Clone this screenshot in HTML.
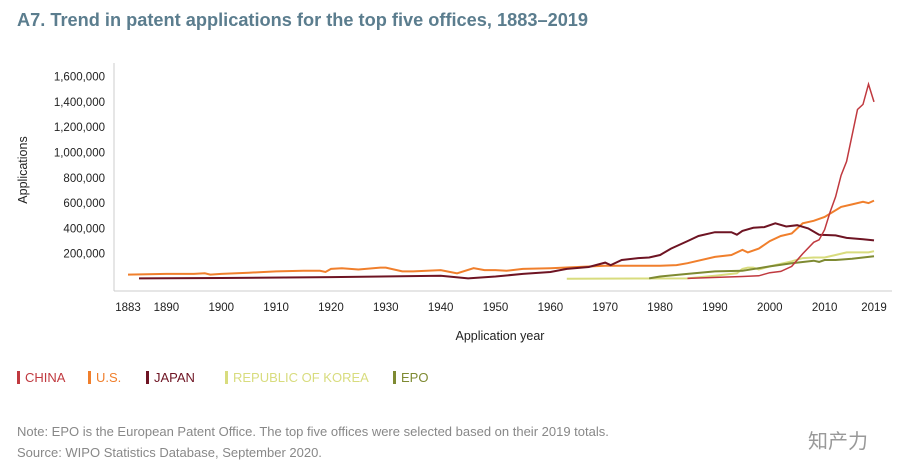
<!DOCTYPE html>
<html><head><meta charset="utf-8"><style>
body{margin:0;width:908px;height:475px;background:#fff;font-family:"Liberation Sans",sans-serif;overflow:hidden;position:relative}
.t{position:absolute;white-space:nowrap}
</style></head><body>
<div class="t" style="left:17px;top:10px;font-size:18.2px;font-weight:bold;color:#5b7d8e">A7. Trend in patent applications for the top five offices, 1883–2019</div>
<svg id="c" width="908" height="360" style="position:absolute;left:0;top:0" font-family="Liberation Sans, sans-serif"></svg>
<div style="position:absolute;left:17px;top:370px;font-size:13px">
<span class="t" style="left:0;color:#c0393f"><b style="display:inline-block;width:3px;height:13px;background:#c0393f;vertical-align:-2px;margin-right:5px"></b>CHINA</span>
<span class="t" style="left:71px;color:#f07f2c"><b style="display:inline-block;width:3px;height:13px;background:#f07f2c;vertical-align:-2px;margin-right:5px"></b>U.S.</span>
<span class="t" style="left:129px;color:#6e1423"><b style="display:inline-block;width:3px;height:13px;background:#6e1423;vertical-align:-2px;margin-right:5px"></b>JAPAN</span>
<span class="t" style="left:208px;color:#d8dc7e"><b style="display:inline-block;width:3px;height:13px;background:#d8dc7e;vertical-align:-2px;margin-right:5px"></b>REPUBLIC OF KOREA</span>
<span class="t" style="left:376px;color:#7e8a32"><b style="display:inline-block;width:3px;height:13px;background:#7e8a32;vertical-align:-2px;margin-right:5px"></b>EPO</span>
</div>
<div class="t" style="left:17px;top:424px;font-size:13px;color:#888">Note: EPO is the European Patent Office. The top five offices were selected based on their 2019 totals.</div>
<div class="t" style="left:17px;top:445px;font-size:13px;color:#888">Source: WIPO Statistics Database, September 2020.</div>
<div class="t" style="left:808px;top:425px;font-size:20px;color:#999;font-family:'Liberation Sans','Noto Sans CJK SC',sans-serif">知产力</div>
<script>
const yTicks=[200000,400000,600000,800000,1000000,1200000,1400000,1600000];
const xTicks=[1883,1890,1900,1910,1920,1930,1940,1950,1960,1970,1980,1990,2000,2010,2019];
const usData=[[1883,35e3],[1890,40e3],[1895,40e3],[1897,45e3],[1898,35e3],[1900,40e3],[1905,50e3],[1910,60e3],[1915,65e3],[1918,65e3],[1919,55e3],[1920,80e3],[1922,85e3],[1925,75e3],[1929,90e3],[1930,90e3],[1933,60e3],[1935,60e3],[1940,70e3],[1943,45e3],[1946,85e3],[1948,70e3],[1950,70e3],[1952,65e3],[1955,80e3],[1960,85e3],[1965,95e3],[1970,105e3],[1975,105e3],[1980,105e3],[1983,110e3],[1985,125e3],[1990,175e3],[1993,190e3],[1995,230e3],[1996,210e3],[1998,240e3],[2000,300e3],[2002,340e3],[2004,360e3],[2006,440e3],[2008,460e3],[2010,490e3],[2013,570e3],[2015,590e3],[2017,610e3],[2018,600e3],[2019,620e3]];
const japanData=[[1885,5e3],[1900,8e3],[1920,15e3],[1940,25e3],[1945,5e3],[1950,20e3],[1955,40e3],[1960,55e3],[1963,80e3],[1967,95e3],[1970,130e3],[1971,110e3],[1973,150e3],[1976,165e3],[1978,170e3],[1980,190e3],[1982,240e3],[1985,300e3],[1987,340e3],[1990,370e3],[1993,370e3],[1994,350e3],[1995,380e3],[1997,405e3],[1999,410e3],[2001,440e3],[2003,415e3],[2005,425e3],[2007,400e3],[2009,350e3],[2012,345e3],[2014,325e3],[2017,315e3],[2019,305e3]];
const chinaData=[[1985,5e3],[1995,20e3],[1998,25e3],[2000,50e3],[2002,60e3],[2004,100e3],[2006,200e3],[2008,290e3],[2009,310e3],[2010,390e3],[2011,530e3],[2012,650e3],[2013,820e3],[2014,930e3],[2016,1340e3],[2017,1380e3],[2018,1540e3],[2019,1400e3]];
const koreaData=[[1963,2e3],[1985,5e3],[1990,25e3],[1994,45e3],[1995,80e3],[1996,90e3],[1997,90e3],[1998,75e3],[2000,100e3],[2004,140e3],[2006,165e3],[2008,170e3],[2010,170e3],[2012,190e3],[2014,210e3],[2016,210e3],[2018,210e3],[2019,220e3]];
const epoData=[[1978,5e3],[1980,20e3],[1985,40e3],[1990,60e3],[1995,65e3],[2000,100e3],[2004,125e3],[2008,145e3],[2009,135e3],[2010,150e3],[2012,150e3],[2015,160e3],[2019,180e3]];
const svg=document.getElementById('c'),NS='http://www.w3.org/2000/svg';
const X=y=>128+(y-1883)*(746/136), Y=v=>279-v*(25.3/200000);
function mk(t,a){const e=document.createElementNS(NS,t);for(const k in a)e.setAttribute(k,a[k]);svg.appendChild(e);return e;}
let e=mk('line',{x1:114,y1:63,x2:114,y2:291,stroke:'#ccc'});


e=mk('line',{x1:114,y1:291,x2:892,y2:291,stroke:'#ccc'});


yTicks.forEach(v=>{const t=mk('text',{x:105,y:Y(v)+4,'text-anchor':'end','font-size':11.5,fill:'#222'});t.textContent=v.toLocaleString('en-US');

});
xTicks.forEach(v=>{const t=mk('text',{x:X(v),y:311,'text-anchor':'middle','font-size':11.5,fill:'#222'});t.textContent=v;

});
e=mk('text',{x:500,y:340,'text-anchor':'middle','font-size':12.5,fill:'#222'});e.textContent='Application year';


e=mk('text',{x:0,y:0,transform:'translate(27,170) rotate(-90)','text-anchor':'middle','font-size':12.5,fill:'#222'});e.textContent='Applications';


[[koreaData,'#d8dc7e','line-korea',2],[epoData,'#7e8a32','line-epo',2],[usData,'#f07f2c','line-us',2],[japanData,'#6e1423','line-japan',2],[chinaData,'#c0393f','line-china',1.5]].forEach(([d,c,n,w])=>{
const p=mk('polyline',{points:d.map(q=>X(q[0]).toFixed(1)+','+Y(q[1]).toFixed(1)).join(' '),fill:'none',stroke:c,'stroke-width':w});

});
</script>
</body></html>
